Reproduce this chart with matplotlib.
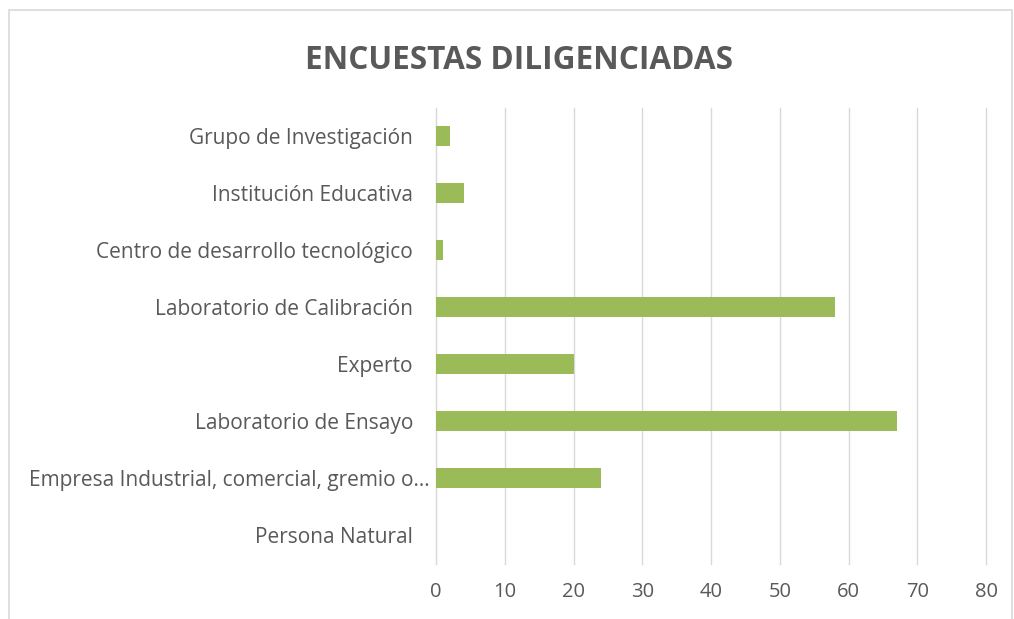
import matplotlib.pyplot as plt
from matplotlib.patches import Rectangle

categorias = ["Persona Natural",
              "Empresa Industrial, comercial, gremio o\u2026",
              "Laboratorio de Ensayo",
              "Experto",
              "Laboratorio de Calibraci\u00f3n",
              "Centro de desarrollo tecnol\u00f3gico",
              "Instituci\u00f3n Educativa",
              "Grupo de Investigaci\u00f3n"]
encuestas = [0, 24, 67, 20, 58, 1, 4, 2]
ticks_x = [0, 10, 20, 30, 40, 50, 60, 70, 80]

plt.rcParams['font.family'] = ['Open Sans', 'DejaVu Sans']
gris = "#595959"

fig = plt.figure(figsize=(10.14, 6.19), dpi=100)
ax = fig.add_axes([0.430, 0.0889, 0.5424, 0.7367])

ax.barh(range(len(categorias)), encuestas, height=0.35, color="#9BBB59", zorder=3)
ax.set_ylim(-0.5, len(categorias) - 0.5)
ax.set_xlim(0, 80)
ax.set_xticks(ticks_x)
ax.set_yticks(range(len(categorias)))
ax.set_yticklabels([])
ax.tick_params(axis="both", length=0, labelsize=14.5, colors=gris)
ax.tick_params(axis="x", pad=13)
ax.grid(axis="x", color="#D9D9D9", linewidth=1)
for linea in ax.get_xgridlines():
    linea.set_clip_on(False)
for s in ["top", "right", "bottom"]:
    ax.spines[s].set_visible(False)
ax.spines["left"].set_color("#D9D9D9")

# etiquetas de categoria (la truncada queda mas cerca del eje, como en Excel)
for i, nombre in enumerate(categorias):
    xpos = -0.012 if nombre.endswith("\u2026") else -0.042
    ax.text(xpos, i - 0.04, nombre, transform=ax.get_yaxis_transform(),
            ha="right", va="center", fontsize=15, color=gris)

fig.text(0.512, 0.902, "ENCUESTAS DILIGENCIADAS", ha="center", va="center",
         fontsize=22.7, fontweight="bold", color=gris)

fig.patches.append(Rectangle((9 / 1014, -0.01), 1003 / 1014, 1 - 10 / 619 + 0.01,
                             transform=fig.transFigure, fill=False,
                             edgecolor="#D9D9D9", linewidth=1.2))

fig.savefig("out.png", dpi=100)
